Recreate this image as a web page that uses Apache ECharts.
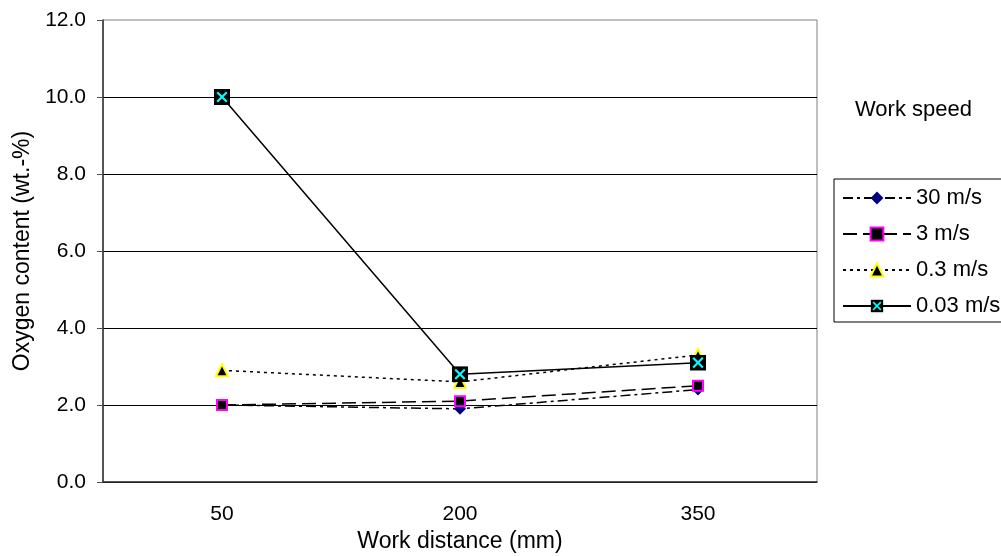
<!DOCTYPE html>
<html>
<head>
<meta charset="utf-8">
<script src="https://cdn.jsdelivr.net/npm/echarts@6/dist/echarts.min.js"></script>
<style>
  html, body { margin: 0; padding: 0; background: #fff; }
  #chart { width: 1001px; height: 556px; }
</style>
</head>
<body>
<div id="chart"></div>
<script>
// Work distance categories (mm)
const distances = ['50', '200', '350'];
// Oxygen content (wt.-%) per work speed
const speed30 = [2.0, 1.9, 2.4];
const speed3 = [2.0, 2.1, 2.5];
const speed03 = [2.9, 2.6, 3.3];
const speed003 = [10.0, 2.8, 3.1];
const seriesNames = ['30 m/s', '3 m/s', '0.3 m/s', '0.03 m/s'];
const yTicks = { min: 0, max: 12, step: 2 };

const FONT = '"Liberation Sans", Arial, sans-serif';

// black square marker with a cyan cross
const crossBox = 'image://data:image/svg+xml;charset=utf-8,' + encodeURIComponent(
  '<svg xmlns="http://www.w3.org/2000/svg" width="30" height="30" viewBox="0 0 30 30">' +
  '<rect width="30" height="30" fill="#000"/>' +
  '<path d="M6 6L24 24M24 6L6 24" stroke="#00ffff" stroke-width="4"/></svg>');

const chart = echarts.init(document.getElementById('chart'));

chart.setOption({
  animation: false,
  backgroundColor: '#fff',
  textStyle: { fontFamily: FONT, color: '#000' },
  title: {
    text: 'Work speed',
    left: 850,
    top: 94,
    textStyle: { fontFamily: FONT, fontSize: 22, fontWeight: 'normal', color: '#000' }
  },
  grid: {
    left: 103, right: 184, top: 20, bottom: 74,
    outerBoundsMode: 'none',
    show: true, borderColor: '#808080', borderWidth: 1
  },
  legend: {
    orient: 'vertical',
    left: 834,
    top: 179,
    padding: [8, 8, 5, 8],
    itemWidth: 68,
    itemHeight: 16,
    itemGap: 14,
    borderColor: '#000',
    borderWidth: 1,
    textStyle: { fontFamily: FONT, fontSize: 22, color: '#000', lineHeight: 22 },
    data: seriesNames
  },
  xAxis: {
    type: 'category',
    data: distances,
    boundaryGap: true,
    name: 'Work distance (mm)',
    nameLocation: 'middle',
    nameGap: 47,
    nameTextStyle: { fontFamily: FONT, fontSize: 23, color: '#000' },
    axisLine: { lineStyle: { color: '#303030', width: 1.5 } },
    axisTick: { length: 6, lineStyle: { color: '#505050' } },
    axisLabel: { fontFamily: FONT, fontSize: 21, color: '#000', margin: 22 },
    splitLine: { show: false }
  },
  yAxis: {
    type: 'value',
    min: yTicks.min,
    max: yTicks.max,
    interval: yTicks.step,
    name: 'Oxygen content (wt.-%)',
    nameLocation: 'middle',
    nameGap: 69,
    nameTextStyle: { fontFamily: FONT, fontSize: 23, color: '#000' },
    axisLine: { show: true, lineStyle: { color: '#303030', width: 1.5 } },
    axisTick: { show: true, length: 6, lineStyle: { color: '#505050' } },
    axisLabel: {
      fontFamily: FONT, fontSize: 21, color: '#000', margin: 17,
      formatter: v => v.toFixed(1)
    },
    splitLine: { show: true, showMaxLine: false, lineStyle: { color: '#000', width: 1 } }
  },
  series: [
    {
      name: seriesNames[0], type: 'line', data: speed30,
      symbol: 'diamond', symbolSize: 12,
      itemStyle: { color: '#000080' },
      lineStyle: { color: '#000', width: 1.5, type: [10, 4, 3, 4] }
    },
    {
      name: seriesNames[1], type: 'line', data: speed3,
      symbol: 'rect', symbolSize: 10,
      itemStyle: { color: '#000', borderColor: '#ff00ff', borderWidth: 2 },
      lineStyle: { color: '#000', width: 1.5, type: [14, 6] }
    },
    {
      name: seriesNames[2], type: 'line', data: speed03,
      symbol: 'triangle', symbolSize: 12,
      itemStyle: { color: '#000', borderColor: '#ffff00', borderWidth: 2 },
      lineStyle: { color: '#000', width: 1.5, type: [3, 4] }
    },
    {
      name: seriesNames[3], type: 'line', data: speed003,
      symbol: crossBox, symbolSize: 16,
      itemStyle: { color: '#000' },
      lineStyle: { color: '#000', width: 1.5, type: 'solid' }
    }
  ]
});
</script>
</body>
</html>
